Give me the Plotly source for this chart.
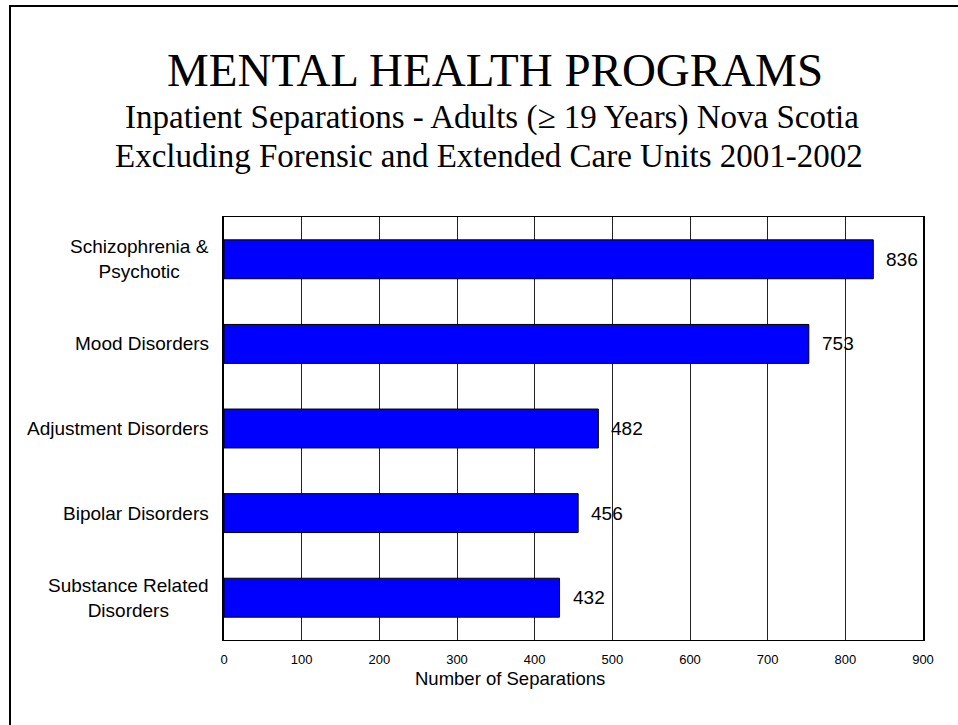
import plotly.graph_objects as go

# ---- data ----
categories = ["Schizophrenia &<br>Psychotic", "Mood Disorders", "Adjustment Disorders",
              "Bipolar Disorders", "Substance Related<br>Disorders"]
separations = [836, 753, 482, 456, 432]
x_ticks = [0, 100, 200, 300, 400, 500, 600, 700, 800, 900]

title_text = "MENTAL HEALTH PROGRAMS"
subtitle_1 = "Inpatient Separations - Adults (\u2265 19 Years) Nova Scotia"
subtitle_2 = "Excluding Forensic and Extended Care Units 2001-2002"
x_title = "Number of Separations"

# ---- layout geometry (pixels) ----
W, H = 958, 725
L, R, T, B = 224, 35, 217, 85
PW, PH = W - L - R, H - T - B


def fx(px):
    return (px - L) / PW


def fy(py):
    return (H - B - py) / PH


SERIF = "Liberation Serif, Times New Roman, serif"
SANS = "Liberation Sans, Arial, sans-serif"

fig = go.Figure()
fig.add_trace(go.Bar(
    x=separations, y=categories, orientation="h",
    marker=dict(color="#0000FF", line=dict(color="#000000", width=1)),
    hoverinfo="x+y", showlegend=False,
))

annotations = []
# title lines
annotations.append(dict(text=title_text, x=fx(495), y=fy(70), xref="paper", yref="paper",
                        xanchor="center", yanchor="middle", showarrow=False,
                        font=dict(family=SERIF, size=47, color="black")))
annotations.append(dict(text=subtitle_1, x=fx(492), y=fy(117), xref="paper", yref="paper",
                        xanchor="center", yanchor="middle", showarrow=False,
                        font=dict(family=SERIF, size=33, color="black")))
annotations.append(dict(text=subtitle_2, x=fx(489), y=fy(156), xref="paper", yref="paper",
                        xanchor="center", yanchor="middle", showarrow=False,
                        font=dict(family=SERIF, size=33, color="black")))
# category labels (centered multi-line)
for c in categories:
    annotations.append(dict(text=c, x=fx(211), y=c, xref="paper", yref="y",
                            xanchor="right", yanchor="middle", align="center", showarrow=False,
                            font=dict(family=SANS, size=19, color="black")))
# value labels
for c, v in zip(categories, separations):
    annotations.append(dict(text=str(v), x=v, y=c, xref="x", yref="y",
                            xanchor="left", yanchor="middle", xshift=11, showarrow=False,
                            font=dict(family=SANS, size=19, color="black")))
# axis title
annotations.append(dict(text=x_title, x=fx(510), y=fy(678), xref="paper", yref="paper",
                        xanchor="center", yanchor="middle", showarrow=False,
                        font=dict(family=SANS, size=18.5, color="black")))

fig.update_layout(
    width=W, height=H,
    margin=dict(l=L, r=R, t=T, b=B, autoexpand=False),
    paper_bgcolor="white", plot_bgcolor="white",
    bargap=0.54,
    annotations=annotations,
    shapes=[dict(type="rect", xref="paper", yref="paper",
                 x0=fx(10), x1=fx(975), y0=fy(745), y1=fy(6),
                 line=dict(color="black", width=2), fillcolor="rgba(0,0,0,0)", layer="below")],
    xaxis=dict(range=[0, 900], tickvals=x_ticks, ticktext=[str(t) for t in x_ticks],
               showgrid=True, gridcolor="#222222", gridwidth=1,
               showline=True, linecolor="black", linewidth=1, mirror=True,
               zeroline=False, ticks="", ticklabelstandoff=7,
               tickfont=dict(family=SANS, size=13, color="black")),
    yaxis=dict(autorange="reversed", showticklabels=False, showgrid=False,
               showline=True, linecolor="black", linewidth=2, mirror=True,
               zeroline=False, ticks=""),
)

fig.write_html("out.html", config={"displayModeBar": False},
               post_script="document.body.style.margin='0';document.body.style.overflow='hidden';")
